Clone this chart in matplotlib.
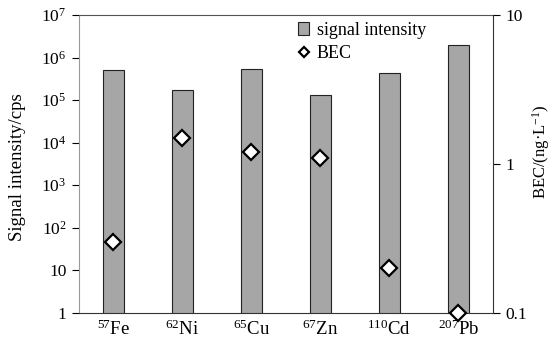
import numpy as np
import matplotlib
matplotlib.use("Agg")
import matplotlib.pyplot as plt

plt.rcParams['font.family'] = ['Liberation Serif', 'DejaVu Serif']
plt.rcParams['mathtext.fontset'] = 'stix'
plt.rcParams['mathtext.default'] = 'regular'
plt.rcParams['font.size'] = 12

# data
isotopes = ["$^{57}$Fe", "$^{62}$Ni", "$^{65}$Cu", "$^{67}$Zn", "$^{110}$Cd", "$^{207}$Pb"]
signal = [5.1e5, 1.74e5, 5.4e5, 1.28e5, 4.3e5, 1.96e6]   # cps
bec = [0.30, 1.50, 1.20, 1.10, 0.20, 0.10]               # ng/L
left_ticks = [1, 10, 1e2, 1e3, 1e4, 1e5, 1e6, 1e7]
left_labels = ["1", "10", "10$^{2}$", "10$^{3}$", "10$^{4}$", "10$^{5}$", "10$^{6}$", "10$^{7}$"]
right_ticks = [0.1, 1, 10]
right_labels = ["0.1", "1", "10"]

x = np.arange(len(isotopes))

fig = plt.figure(figsize=(5.54, 3.4), dpi=100)
ax = fig.add_axes([79/554, 1 - 312.7/340, (492.7 - 79)/554, (312.7 - 15)/340])

bars = ax.bar(x, signal, width=0.31, color='#a6a6a6', edgecolor='#222222', linewidth=0.8,
              bottom=0, label='signal intensity', zorder=2)
ax.set_yscale('log')
ax.set_ylim(1, 1e7)
ax.set_xlim(-0.5, len(isotopes) - 0.5)
ax.set_yticks(left_ticks)
ax.set_yticklabels(left_labels)
ax.minorticks_off()
ax.set_xticks(x)
ax.set_xticklabels(isotopes, fontsize=13.5)
ax.tick_params(axis='x', length=0, pad=5)
ax.tick_params(axis='y', direction='out', length=5, width=0.8, labelsize=12.5, pad=4)
ax.set_ylabel("Signal intensity/cps", fontsize=13.5)
ax.yaxis.set_label_coords(-0.128, 0.49)
ax.spines['left'].set_color('#999999')
ax.spines['top'].set_color('#555555')
ax.spines['right'].set_visible(False)
ax.spines['bottom'].set_color('#333333')

ax2 = ax.twinx()
ax2.set_yscale('log')
ax2.set_ylim(0.1, 10)
pts, = ax2.plot(x, bec, linestyle='none', marker='D', markersize=8,
                markerfacecolor='white', markeredgecolor='black', markeredgewidth=1.6,
                label='BEC', clip_on=False, zorder=5)
ax2.set_yticks(right_ticks)
ax2.set_yticklabels(right_labels)
ax2.minorticks_off()
ax2.tick_params(axis='y', direction='out', length=5, width=0.8, labelsize=12.5, pad=4)
ax2.set_ylabel("BEC/(ng\u00b7L$^{-1}$)", fontsize=12)
ax2.yaxis.set_label_coords(1.09, 0.54)
for s in ['left', 'top', 'bottom']:
    ax2.spines[s].set_visible(False)
ax2.spines['right'].set_color('#333333')

leg = ax.legend([bars, pts], ['signal intensity', 'BEC'], loc='upper left',
                bbox_to_anchor=(0.5, 1.02), frameon=False, fontsize=13,
                handlelength=0.6, handletextpad=0.4, labelspacing=0.35, borderpad=0.2)
leg.legend_handles[1].set_markersize(5)

fig.savefig("out.png", dpi=100)
